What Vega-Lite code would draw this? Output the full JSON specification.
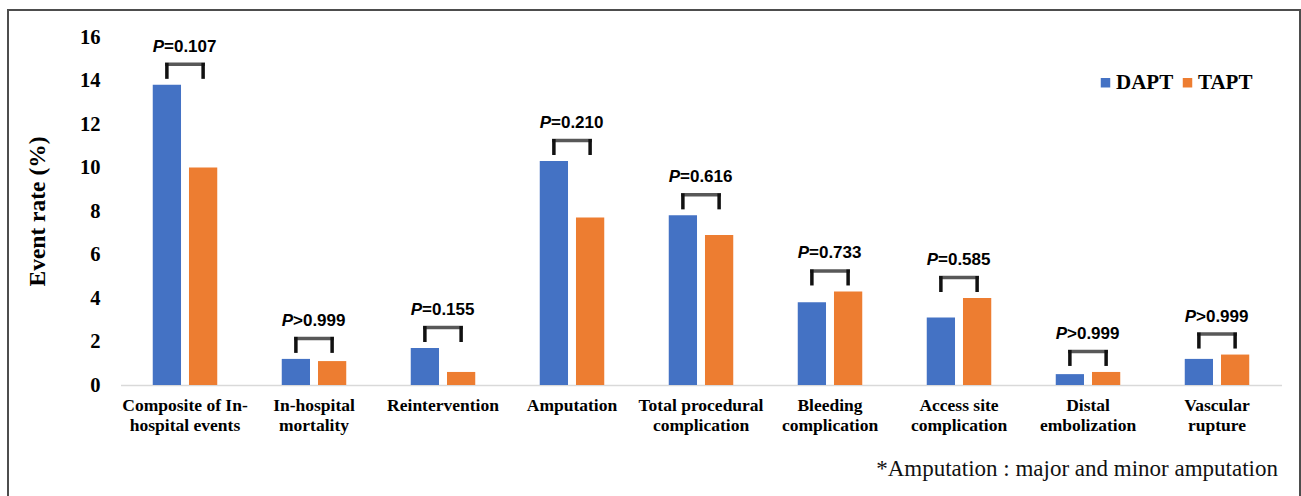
{
  "$schema": "https://vega.github.io/schema/vega-lite/v6.json",
  "width": 1292,
  "height": 500,
  "autosize": {"type": "none"},
  "padding": {"left": 8, "top": 10, "right": 1, "bottom": 0},
  "background": "white",
  "config": {
    "view": {"stroke": "#4d4d4d", "strokeWidth": 2}
  },
  "title": {
    "text": "*Amputation : major and minor amputation",
    "orient": "bottom",
    "anchor": "end",
    "frame": "group",
    "font": "Liberation Serif",
    "fontSize": 23,
    "fontWeight": "normal",
    "color": "#111",
    "offset": -52,
    "dx": -22
  },
  "data": {
    "values": [
      {"category": "Composite of In-|hospital events", "group": "DAPT", "rate": 13.8, "p": "=0.107"},
      {"category": "Composite of In-|hospital events", "group": "TAPT", "rate": 10.0, "p": "=0.107"},
      {"category": "In-hospital|mortality", "group": "DAPT", "rate": 1.2, "p": ">0.999"},
      {"category": "In-hospital|mortality", "group": "TAPT", "rate": 1.1, "p": ">0.999"},
      {"category": "Reintervention", "group": "DAPT", "rate": 1.7, "p": "=0.155"},
      {"category": "Reintervention", "group": "TAPT", "rate": 0.6, "p": "=0.155"},
      {"category": "Amputation", "group": "DAPT", "rate": 10.3, "p": "=0.210"},
      {"category": "Amputation", "group": "TAPT", "rate": 7.7, "p": "=0.210"},
      {"category": "Total procedural|complication", "group": "DAPT", "rate": 7.8, "p": "=0.616"},
      {"category": "Total procedural|complication", "group": "TAPT", "rate": 6.9, "p": "=0.616"},
      {"category": "Bleeding|complication", "group": "DAPT", "rate": 3.8, "p": "=0.733"},
      {"category": "Bleeding|complication", "group": "TAPT", "rate": 4.3, "p": "=0.733"},
      {"category": "Access site|complication", "group": "DAPT", "rate": 3.1, "p": "=0.585"},
      {"category": "Access site|complication", "group": "TAPT", "rate": 4.0, "p": "=0.585"},
      {"category": "Distal|embolization", "group": "DAPT", "rate": 0.5, "p": ">0.999"},
      {"category": "Distal|embolization", "group": "TAPT", "rate": 0.6, "p": ">0.999"},
      {"category": "Vascular|rupture", "group": "DAPT", "rate": 1.2, "p": ">0.999"},
      {"category": "Vascular|rupture", "group": "TAPT", "rate": 1.4, "p": ">0.999"}
    ]
  },
  "transform": [
    {"joinaggregate": [{"op": "max", "field": "rate", "as": "maxRate"}], "groupby": ["category"]}
  ],
  "encoding": {
    "x": {
      "field": "category",
      "type": "nominal",
      "sort": null,
      "scale": {"range": [112.5, 1273.5], "paddingInner": 0.5, "paddingOuter": 0.25},
      "axis": {
        "title": null,
        "orient": "bottom",
        "offset": -125,
        "domainColor": "#d9d9d9",
        "domainWidth": 1.5,
        "ticks": false,
        "tickSize": 0,
        "labelPadding": 11,
        "labelAngle": 0,
        "labelExpr": "split(datum.label, '|')",
        "labelFont": "Liberation Serif",
        "labelFontWeight": "bold",
        "labelFontSize": 17.5,
        "labelLineHeight": 20,
        "labelColor": "#000",
        "labelLimit": 300
      }
    }
  },
  "layer": [
    {
      "mark": {"type": "bar"},
      "encoding": {
        "xOffset": {"field": "group", "type": "nominal", "scale": {"paddingInner": 0.22, "paddingOuter": 0}},
        "y": {
          "field": "rate",
          "type": "quantitative",
          "scale": {"domain": [0, 16], "range": [375, 27], "nice": false, "zero": true},
          "axis": {
            "title": "Event rate (%)",
            "values": [0, 2, 4, 6, 8, 10, 12, 14, 16],
            "offset": -100,
            "grid": false,
            "domain": false,
            "ticks": false,
            "tickSize": 0,
            "labelPadding": 8,
            "labelFont": "Liberation Serif",
            "labelFontWeight": "bold",
            "labelFontSize": 20.5,
            "labelColor": "#000",
            "titleFont": "Liberation Serif",
            "titleFontWeight": "bold",
            "titleFontSize": 23.5,
            "titleColor": "#000",
            "titlePadding": 30
          }
        },
        "color": {
          "field": "group",
          "type": "nominal",
          "scale": {"domain": ["DAPT", "TAPT"], "range": ["#4472C4", "#ED7D31"]},
          "legend": {
            "title": null,
            "orient": "none",
            "legendX": 1087,
            "legendY": 62,
            "direction": "horizontal",
            "symbolType": "square",
            "symbolSize": 90,
            "symbolStrokeWidth": 0,
            "labelFont": "Liberation Serif",
            "labelFontWeight": "bold",
            "labelFontSize": 21,
            "labelColor": "#000",
            "labelOffset": 0,
            "columnPadding": 3,
            "padding": 0
          }
        }
      }
    },
    {
      "mark": {"type": "rule", "color": "#111", "strokeWidth": 3.5, "yOffset": -22, "y2Offset": -6},
      "encoding": {
        "xOffset": {"field": "group", "type": "nominal"},
        "y": {"field": "maxRate", "type": "quantitative"},
        "y2": {"field": "maxRate"}
      }
    },
    {
      "transform": [{"filter": "datum.group === 'DAPT'"}],
      "mark": {"type": "tick", "color": "#111", "size": 40, "thickness": 3.5, "yOffset": -20.5},
      "encoding": {
        "y": {"field": "maxRate", "type": "quantitative"}
      }
    },
    {
      "transform": [{"filter": "datum.group === 'DAPT'"}],
      "mark": {"type": "text", "font": "Liberation Sans", "fontWeight": "bold", "fontStyle": "italic", "fontSize": 17, "align": "right", "baseline": "alphabetic", "dx": -21, "yOffset": -33, "color": "#000"},
      "encoding": {
        "y": {"field": "maxRate", "type": "quantitative"},
        "text": {"value": "P"}
      }
    },
    {
      "transform": [{"filter": "datum.group === 'DAPT'"}],
      "mark": {"type": "text", "font": "Liberation Sans", "fontWeight": "bold", "fontSize": 17, "align": "left", "baseline": "alphabetic", "dx": -21, "yOffset": -33, "color": "#000"},
      "encoding": {
        "y": {"field": "maxRate", "type": "quantitative"},
        "text": {"field": "p"}
      }
    }
  ]
}
